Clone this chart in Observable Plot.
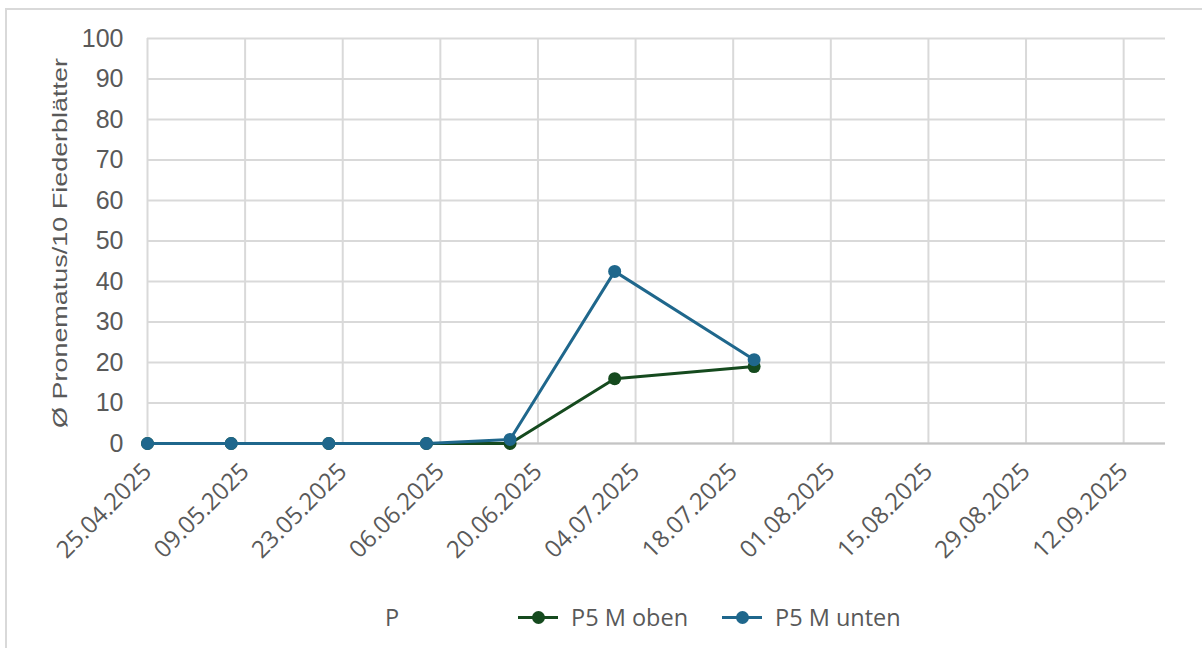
<!DOCTYPE html>
<html>
<head>
<meta charset="utf-8">
<script src="https://cdn.jsdelivr.net/npm/d3@7"></script>
<script src="https://cdn.jsdelivr.net/npm/@observablehq/plot@0.6"></script>
<style>
  html, body { margin: 0; padding: 0; background: #fff; }
  #wrap { position: relative; width: 1202px; height: 650px; overflow: hidden; font-family: "Open Sans", sans-serif; }
  #frame { position: absolute; left: 5px; top: 8px; width: 1200px; height: 640px; border-left: 2px solid #d9d9d9; border-top: 2px solid #d9d9d9; box-sizing: border-box; pointer-events: none; }
  #legend { position: relative; height: 60px; font-size: 23.5px; color: #595959; }
  .lg { position: absolute; top: 11px; display: flex; align-items: center; }
  .sw { position: relative; width: 40px; height: 3px; margin-right: 13px; }
  .sw i { position: absolute; left: 14px; top: -5px; width: 13px; height: 13px; border-radius: 50%; }
</style>
</head>
<body>
<div id="wrap">
  <div id="chart"></div>
  <div id="legend"></div>
  <div id="frame"></div>
</div>
<script>
// ---- data ----
const xTickLabels = ["25.04.2025","09.05.2025","23.05.2025","06.06.2025","20.06.2025","04.07.2025","18.07.2025","01.08.2025","15.08.2025","29.08.2025","12.09.2025"];
const xDomain = ["25.04.2025", "18.09.2025"];
const yTicks = [0,10,20,30,40,50,60,70,80,90,100];
const dates = ["25.04.2025","07.05.2025","21.05.2025","04.06.2025","16.06.2025","01.07.2025","21.07.2025"];
const obenValues  = [0, 0, 0, 0, 0, 16, 19];
const untenValues = [0, 0, 0, 0, 1, 42.5, 20.7];
const seriesNames = ["P5 M oben", "P5 M unten"];
const seriesColors = ["#154a1e", "#1f678c"];
const yTitle = "Ø Pronematus/10 Fiederblätter";
const legendTitle = "P";

const parse = d3.utcParse("%d.%m.%Y");
const fmt = d3.utcFormat("%d.%m.%Y");
const oben = dates.map((d, i) => ({date: parse(d), value: obenValues[i]}));
const unten = dates.map((d, i) => ({date: parse(d), value: untenValues[i]}));
const tickDates = xTickLabels.map(parse);

const chart = Plot.plot({
  width: 1202,
  height: 590,
  marginLeft: 147,
  marginRight: 37,
  marginTop: 38,
  marginBottom: 147,
  style: {fontFamily: "'Open Sans', sans-serif", fontSize: "23px", color: "#595959", background: "transparent", overflow: "visible"},
  x: {type: "utc", domain: xDomain.map(parse)},
  y: {domain: [0, 100]},
  marks: [
    Plot.gridY(yTicks, {stroke: "#d9d9d9", strokeOpacity: 1, strokeWidth: 2}),
    Plot.gridX(tickDates, {stroke: "#d9d9d9", strokeOpacity: 1, strokeWidth: 2}),
    Plot.ruleY([0], {stroke: "#c4c4c4", strokeWidth: 2}),
    Plot.axisY(yTicks, {tickSize: 0, tickPadding: 24, label: null, fill: "#595959", fontFamily: "'Liberation Sans', Arial, sans-serif", fontSize: 25}),
    Plot.axisX(tickDates, {tickSize: 0, tickPadding: 24, tickRotate: -45, tickFormat: fmt, label: null, fill: "#595959", fontSize: 24}),
    Plot.text([yTitle], {frameAnchor: "left", dx: -87, dy: 2, rotate: -90, textAnchor: "middle", fill: "#595959", fontSize: 21, fontFamily: "'Liberation Sans', Arial, sans-serif", className: "ytitle"}),
    Plot.line(oben, {x: "date", y: "value", stroke: seriesColors[0], strokeWidth: 3}),
    Plot.dot(oben, {x: "date", y: "value", fill: seriesColors[0], r: 6.5}),
    Plot.line(unten, {x: "date", y: "value", stroke: seriesColors[1], strokeWidth: 3}),
    Plot.dot(unten, {x: "date", y: "value", fill: seriesColors[1], r: 6.5})
  ]
});
document.getElementById("chart").appendChild(chart);
// stretch the y title to the reference's length
chart.querySelectorAll(".ytitle text").forEach(t => {
  t.setAttribute("textLength", 370);
  t.setAttribute("lengthAdjust", "spacingAndGlyphs");
});

// legend
const lg = document.getElementById("legend");
const t = document.createElement("div");
t.className = "lg"; t.style.left = "385px"; t.textContent = legendTitle;
lg.appendChild(t);
const lefts = [518, 722];
seriesNames.forEach((n, i) => {
  const d = document.createElement("div");
  d.className = "lg"; d.style.left = lefts[i] + "px";
  d.innerHTML = `<span class="sw" style="background:${seriesColors[i]}"><i style="background:${seriesColors[i]}"></i></span><span>${n}</span>`;
  lg.appendChild(d);
});
</script>
</body>
</html>
